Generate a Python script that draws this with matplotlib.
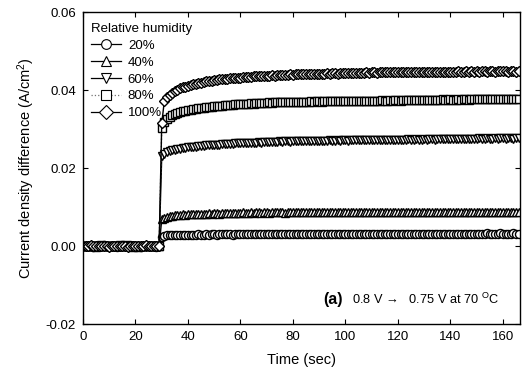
import matplotlib
matplotlib.use("Agg")
import matplotlib.pyplot as plt
from matplotlib.lines import Line2D

plt.rcParams['font.family'] = ['Liberation Sans', 'DejaVu Sans']
plt.rcParams['mathtext.fontset'] = 'custom'
plt.rcParams['mathtext.rm'] = 'Liberation Sans'
plt.rcParams['mathtext.it'] = 'Liberation Sans:italic'
plt.rcParams['mathtext.bf'] = 'Liberation Sans:bold'

# ---------------- data ----------------
time_s = list(range(0, 167))  # sampled every 1 s

rh20 = [0.0000, -0.0001, 0.0001, 0.0000, -0.0002, 0.0001, 0.0000, -0.0001, 0.0002, 0.0000,
        -0.0001, 0.0001, 0.0000, -0.0002, 0.0000, 0.0001, -0.0001, 0.0000, 0.0002, -0.0001,
        0.0000, 0.0001, -0.0002, 0.0000, 0.0001, -0.0001, 0.0000, 0.0001, -0.0002, 0.0000,
        0.0024, 0.0026, 0.0027, 0.0027, 0.0028, 0.0027, 0.0028, 0.0028, 0.0029, 0.0028,
        0.0029, 0.0028, 0.0029, 0.0029, 0.0030, 0.0029, 0.0029, 0.0030, 0.0029, 0.0030,
        0.0030, 0.0029, 0.0030, 0.0030, 0.0031, 0.0030, 0.0030, 0.0029, 0.0030, 0.0031,
        0.0030, 0.0030, 0.0031, 0.0030, 0.0030, 0.0031, 0.0030, 0.0031, 0.0030, 0.0030,
        0.0031, 0.0030, 0.0031, 0.0031, 0.0030, 0.0031, 0.0030, 0.0031, 0.0031, 0.0030,
        0.0031, 0.0031, 0.0030, 0.0031, 0.0031, 0.0032, 0.0031, 0.0030, 0.0031, 0.0031,
        0.0031, 0.0030, 0.0031, 0.0032, 0.0031, 0.0031, 0.0030, 0.0031, 0.0032, 0.0031,
        0.0031, 0.0031, 0.0032, 0.0031, 0.0030, 0.0031, 0.0032, 0.0031, 0.0031, 0.0032,
        0.0031, 0.0031, 0.0032, 0.0031, 0.0031, 0.0032, 0.0031, 0.0030, 0.0031, 0.0032,
        0.0031, 0.0032, 0.0031, 0.0031, 0.0032, 0.0031, 0.0031, 0.0032, 0.0032, 0.0031,
        0.0032, 0.0031, 0.0031, 0.0032, 0.0031, 0.0032, 0.0032, 0.0031, 0.0032, 0.0031,
        0.0032, 0.0032, 0.0031, 0.0032, 0.0032, 0.0031, 0.0032, 0.0032, 0.0031, 0.0032,
        0.0032, 0.0031, 0.0032, 0.0032, 0.0033, 0.0032, 0.0031, 0.0032, 0.0032, 0.0033,
        0.0032, 0.0032, 0.0031, 0.0032, 0.0033, 0.0032, 0.0032]

rh40 = [0.0001, 0.0000, -0.0001, 0.0001, 0.0000, -0.0002, 0.0001, 0.0000, 0.0001, -0.0001,
        0.0000, 0.0002, -0.0001, 0.0000, 0.0001, -0.0001, 0.0000, 0.0001, 0.0000, -0.0002,
        0.0001, 0.0000, -0.0001, 0.0001, 0.0000, 0.0002, -0.0001, 0.0000, 0.0001, -0.0001,
        0.0068, 0.0073, 0.0075, 0.0077, 0.0078, 0.0079, 0.0079, 0.0080, 0.0081, 0.0080,
        0.0081, 0.0082, 0.0081, 0.0082, 0.0083, 0.0082, 0.0083, 0.0083, 0.0084, 0.0083,
        0.0084, 0.0084, 0.0083, 0.0084, 0.0085, 0.0084, 0.0085, 0.0084, 0.0085, 0.0085,
        0.0085, 0.0086, 0.0085, 0.0085, 0.0086, 0.0085, 0.0086, 0.0086, 0.0085, 0.0086,
        0.0086, 0.0085, 0.0086, 0.0086, 0.0087, 0.0086, 0.0086, 0.0085, 0.0086, 0.0087,
        0.0086, 0.0086, 0.0087, 0.0086, 0.0086, 0.0087, 0.0086, 0.0087, 0.0086, 0.0086,
        0.0087, 0.0086, 0.0087, 0.0087, 0.0086, 0.0087, 0.0086, 0.0087, 0.0087, 0.0086,
        0.0087, 0.0087, 0.0086, 0.0087, 0.0087, 0.0087, 0.0086, 0.0087, 0.0087, 0.0087,
        0.0087, 0.0086, 0.0087, 0.0087, 0.0087, 0.0087, 0.0087, 0.0086, 0.0087, 0.0087,
        0.0087, 0.0087, 0.0087, 0.0087, 0.0086, 0.0087, 0.0087, 0.0087, 0.0087, 0.0087,
        0.0087, 0.0087, 0.0087, 0.0087, 0.0087, 0.0087, 0.0087, 0.0087, 0.0087, 0.0087,
        0.0087, 0.0087, 0.0087, 0.0087, 0.0087, 0.0087, 0.0087, 0.0087, 0.0087, 0.0087,
        0.0087, 0.0087, 0.0087, 0.0087, 0.0087, 0.0087, 0.0087, 0.0087, 0.0087, 0.0087,
        0.0087, 0.0087, 0.0087, 0.0087, 0.0087, 0.0087, 0.0087]

rh60 = [-0.0001, 0.0000, 0.0001, -0.0001, 0.0000, 0.0001, 0.0000, -0.0002, 0.0001, 0.0000,
        0.0001, -0.0001, 0.0000, 0.0001, -0.0001, 0.0000, 0.0002, 0.0000, -0.0001, 0.0001,
        0.0000, -0.0001, 0.0001, 0.0000, -0.0002, 0.0001, 0.0000, -0.0001, 0.0001, 0.0000,
        0.0230, 0.0236, 0.0240, 0.0243, 0.0245, 0.0247, 0.0248, 0.0250, 0.0251, 0.0252,
        0.0253, 0.0254, 0.0254, 0.0255, 0.0256, 0.0256, 0.0257, 0.0258, 0.0258, 0.0259,
        0.0259, 0.0260, 0.0260, 0.0261, 0.0261, 0.0262, 0.0262, 0.0262, 0.0263, 0.0263,
        0.0264, 0.0263, 0.0264, 0.0265, 0.0264, 0.0265, 0.0265, 0.0266, 0.0265, 0.0266,
        0.0266, 0.0267, 0.0266, 0.0267, 0.0267, 0.0268, 0.0267, 0.0268, 0.0268, 0.0267,
        0.0268, 0.0269, 0.0268, 0.0269, 0.0269, 0.0268, 0.0269, 0.0270, 0.0269, 0.0270,
        0.0270, 0.0269, 0.0270, 0.0270, 0.0271, 0.0270, 0.0270, 0.0271, 0.0270, 0.0271,
        0.0271, 0.0270, 0.0271, 0.0271, 0.0272, 0.0271, 0.0271, 0.0272, 0.0271, 0.0272,
        0.0272, 0.0271, 0.0272, 0.0272, 0.0273, 0.0272, 0.0272, 0.0273, 0.0272, 0.0273,
        0.0273, 0.0272, 0.0273, 0.0273, 0.0274, 0.0273, 0.0273, 0.0274, 0.0273, 0.0273,
        0.0274, 0.0273, 0.0274, 0.0274, 0.0273, 0.0274, 0.0274, 0.0275, 0.0274, 0.0274,
        0.0275, 0.0274, 0.0274, 0.0275, 0.0274, 0.0275, 0.0275, 0.0274, 0.0275, 0.0275,
        0.0275, 0.0276, 0.0275, 0.0275, 0.0276, 0.0275, 0.0275, 0.0276, 0.0275, 0.0276,
        0.0276, 0.0275, 0.0276, 0.0276, 0.0275, 0.0276, 0.0276]

rh80 = [0.0000, 0.0001, -0.0001, 0.0000, 0.0001, 0.0000, -0.0001, 0.0002, 0.0000, -0.0001,
        0.0001, 0.0000, -0.0001, 0.0000, 0.0002, -0.0001, 0.0000, 0.0001, -0.0001, 0.0000,
        0.0001, -0.0002, 0.0000, 0.0001, 0.0000, -0.0001, 0.0001, 0.0000, -0.0001, 0.0001,
        0.0302, 0.0318, 0.0326, 0.0331, 0.0335, 0.0338, 0.0341, 0.0343, 0.0345, 0.0346,
        0.0348, 0.0349, 0.0351, 0.0352, 0.0353, 0.0354, 0.0355, 0.0356, 0.0357, 0.0357,
        0.0358, 0.0359, 0.0359, 0.0360, 0.0361, 0.0361, 0.0362, 0.0362, 0.0363, 0.0363,
        0.0364, 0.0364, 0.0365, 0.0365, 0.0366, 0.0365, 0.0366, 0.0367, 0.0366, 0.0367,
        0.0367, 0.0368, 0.0367, 0.0368, 0.0368, 0.0369, 0.0368, 0.0369, 0.0369, 0.0368,
        0.0369, 0.0370, 0.0369, 0.0370, 0.0370, 0.0369, 0.0370, 0.0371, 0.0370, 0.0371,
        0.0371, 0.0370, 0.0371, 0.0371, 0.0372, 0.0371, 0.0371, 0.0372, 0.0371, 0.0372,
        0.0372, 0.0371, 0.0372, 0.0372, 0.0373, 0.0372, 0.0372, 0.0373, 0.0372, 0.0373,
        0.0373, 0.0372, 0.0373, 0.0373, 0.0374, 0.0373, 0.0373, 0.0374, 0.0373, 0.0374,
        0.0374, 0.0373, 0.0374, 0.0374, 0.0375, 0.0374, 0.0374, 0.0375, 0.0374, 0.0374,
        0.0375, 0.0374, 0.0375, 0.0375, 0.0374, 0.0375, 0.0375, 0.0376, 0.0375, 0.0375,
        0.0376, 0.0375, 0.0375, 0.0376, 0.0375, 0.0376, 0.0376, 0.0375, 0.0376, 0.0376,
        0.0376, 0.0377, 0.0376, 0.0376, 0.0377, 0.0376, 0.0376, 0.0377, 0.0376, 0.0377,
        0.0377, 0.0376, 0.0377, 0.0377, 0.0376, 0.0377, 0.0377]

rh100 = [0.0001, -0.0001, 0.0000, 0.0002, -0.0001, 0.0000, 0.0001, -0.0001, 0.0000, 0.0001,
         -0.0002, 0.0000, 0.0001, 0.0000, -0.0001, 0.0001, 0.0000, -0.0002, 0.0001, 0.0000,
         -0.0001, 0.0001, 0.0000, -0.0001, 0.0002, 0.0000, -0.0001, 0.0000, 0.0001, -0.0001,
         0.0315, 0.0372, 0.0382, 0.0388, 0.0393, 0.0397, 0.0401, 0.0404, 0.0407, 0.0409,
         0.0411, 0.0413, 0.0415, 0.0416, 0.0418, 0.0419, 0.0420, 0.0422, 0.0423, 0.0424,
         0.0425, 0.0426, 0.0427, 0.0427, 0.0428, 0.0429, 0.0430, 0.0430, 0.0431, 0.0432,
         0.0432, 0.0433, 0.0433, 0.0434, 0.0434, 0.0435, 0.0435, 0.0436, 0.0436, 0.0436,
         0.0437, 0.0437, 0.0438, 0.0437, 0.0438, 0.0439, 0.0438, 0.0439, 0.0439, 0.0440,
         0.0439, 0.0440, 0.0440, 0.0441, 0.0440, 0.0441, 0.0441, 0.0442, 0.0441, 0.0442,
         0.0442, 0.0441, 0.0442, 0.0443, 0.0442, 0.0443, 0.0443, 0.0442, 0.0443, 0.0444,
         0.0443, 0.0444, 0.0444, 0.0443, 0.0444, 0.0444, 0.0444, 0.0444, 0.0445, 0.0444,
         0.0445, 0.0445, 0.0444, 0.0445, 0.0445, 0.0445, 0.0445, 0.0446, 0.0445, 0.0446,
         0.0446, 0.0445, 0.0446, 0.0446, 0.0446, 0.0446, 0.0446, 0.0447, 0.0446, 0.0446,
         0.0447, 0.0446, 0.0447, 0.0447, 0.0446, 0.0447, 0.0447, 0.0447, 0.0447, 0.0447,
         0.0447, 0.0447, 0.0447, 0.0448, 0.0447, 0.0447, 0.0448, 0.0447, 0.0448, 0.0447,
         0.0448, 0.0447, 0.0448, 0.0448, 0.0447, 0.0448, 0.0448, 0.0447, 0.0448, 0.0448,
         0.0448, 0.0448, 0.0447, 0.0448, 0.0448, 0.0447, 0.0448]

labels = ['20%', '40%', '60%', '80%', '100%']
markers = ['o', '^', 'v', 's', 'D']
series = [rh20, rh40, rh60, rh80, rh100]

x_ticks = [0, 20, 40, 60, 80, 100, 120, 140, 160]
y_ticks = [-0.02, 0.00, 0.02, 0.04, 0.06]
y_ticklabels = ['-0.02', '0.00', '0.02', '0.04', '0.06']

# ---------------- figure ----------------
fig = plt.figure(figsize=(5.23, 3.85), dpi=100)
ax = fig.add_axes([0.1587, 0.1584, 0.8356, 0.8104])

styles = {
    '80%': dict(linestyle=':', color='0.45'),
}
for lab, mk, ys in zip(labels, markers, series):
    st = styles.get(lab, dict(linestyle='-', color='black'))
    msz = {'o': 5.8, 's': 5.6, '^': 6.2, 'v': 6.2, 'D': 5.4}[mk]
    ax.plot(time_s, ys, marker=mk, markersize=msz, markerfacecolor='white',
            markeredgecolor='black', markeredgewidth=1.0, linewidth=1.0,
            label=lab, **st)

ax.set_xlim(0, 166.5)
ax.set_ylim(-0.02, 0.06)
ax.set_xticks(x_ticks)
ax.set_yticks(y_ticks)
ax.set_yticklabels(y_ticklabels)
ax.tick_params(direction='in', top=True, right=True, length=3.5, width=0.8,
               labelsize=9.5, pad=5)
for sp in ax.spines.values():
    sp.set_linewidth(1.0)

ax.set_xlabel('Time (sec)', fontsize=10.5, labelpad=7)
ax.set_ylabel('Current density difference (A/cm$^2$)', fontsize=10.5, labelpad=6)

handles = []
for lab, mk in zip(labels, markers):
    st = styles.get(lab, dict(linestyle='-', color='black'))
    handles.append(Line2D([], [], marker=mk, markersize=7, markerfacecolor='white',
                          markeredgecolor='black', markeredgewidth=0.8, linewidth=0.9, **st))
leg = ax.legend(handles, labels, title='Relative humidity', loc='upper left',
                frameon=False, fontsize=9.5, title_fontsize=9.5, handlelength=2.3,
                handletextpad=0.5, labelspacing=0.35, borderaxespad=0.2,
                bbox_to_anchor=(0.0, 0.99))
leg._legend_box.align = 'left'

ax.text(0.549, 0.08, '(a)', transform=ax.transAxes, fontsize=11.5,
        fontweight='bold', ha='left', va='center')
ax.text(0.616, 0.08, '0.8 V \u2192   0.75 V at 70 $^{\\mathrm{O}}$C', transform=ax.transAxes,
        fontsize=9.2, ha='left', va='center')

fig.savefig('out.png', dpi=100)
